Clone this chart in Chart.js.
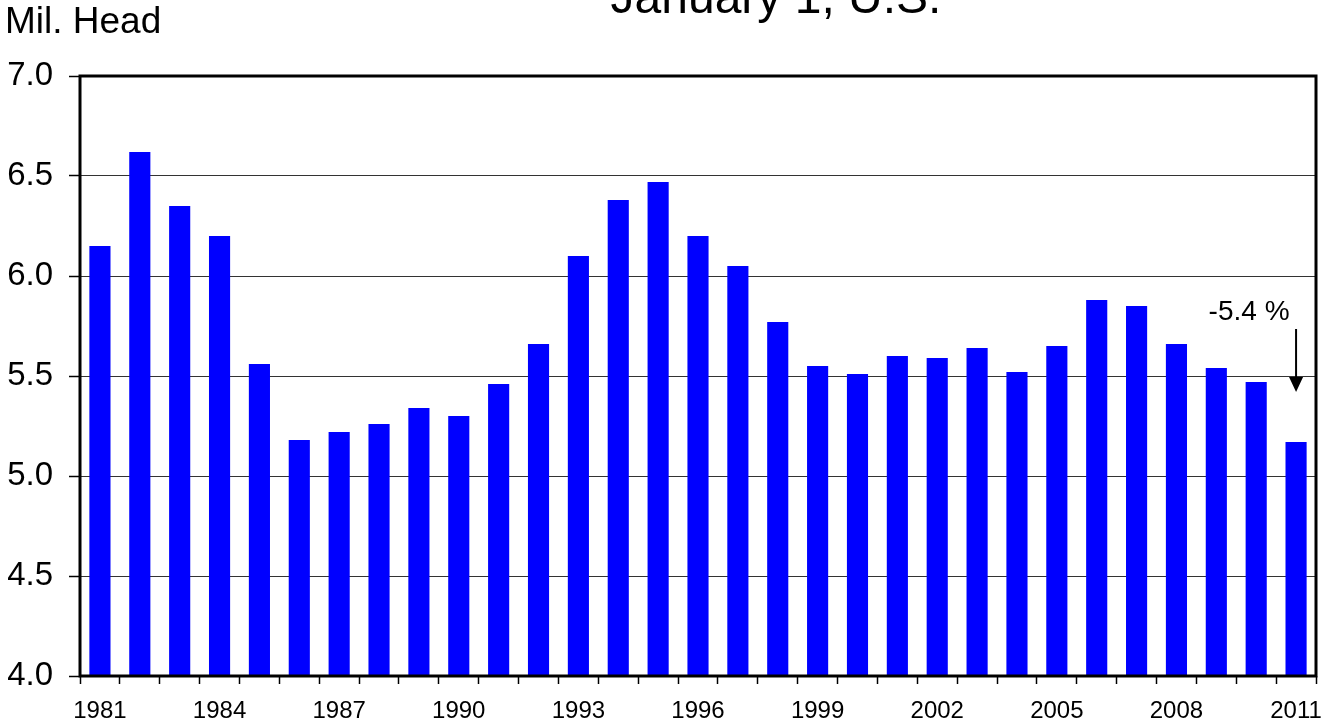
<!DOCTYPE html>
<html>
<head>
<meta charset="utf-8">
<script src="https://cdn.jsdelivr.net/npm/chart.js@4/dist/chart.umd.min.js"></script>
<style>
  html, body { margin: 0; padding: 0; background: #fff; }
  #wrap { width: 1322px; height: 724px; }
</style>
</head>
<body>
<div id="wrap"><canvas id="cowChart" width="1322" height="724"></canvas></div>
<script>
const years = ['1981', '1982', '1983', '1984', '1985', '1986', '1987', '1988', '1989', '1990',
    '1991', '1992', '1993', '1994', '1995', '1996', '1997', '1998', '1999', '2000',
    '2001', '2002', '2003', '2004', '2005', '2006', '2007', '2008', '2009', '2010', '2011'];
const headMillions = [6.15, 6.62, 6.35, 6.20, 5.56, 5.18, 5.22, 5.26, 5.34, 5.30,
    5.46, 5.66, 6.10, 6.38, 6.47, 6.20, 6.05, 5.77, 5.55, 5.51,
    5.60, 5.59, 5.64, 5.52, 5.65, 5.88, 5.85, 5.66, 5.54, 5.47, 5.17];
const labelEvery = 3;
const titleText = 'January 1, U.S.';
const unitText = 'Mil. Head';
const changeText = '-5.4 %';

const FONT = "'Liberation Sans', Arial, Helvetica, sans-serif";

// title, unit label, frame and the -5.4 % arrow
const decorations = {
    id: 'decorations',
    afterDraw(chart) {
        const ctx = chart.ctx;
        const area = chart.chartArea;
        const x = chart.scales.x;
        const y = chart.scales.y;

        ctx.save();
        ctx.fillStyle = '#000';
        ctx.textBaseline = 'alphabetic';

        ctx.font = '48px ' + FONT;
        ctx.textAlign = 'center';
        ctx.fillText(titleText, 776, 13);

        ctx.font = '37px ' + FONT;
        ctx.textAlign = 'left';
        ctx.fillText(unitText, 5, 33);

        // frame around the plot
        ctx.strokeStyle = '#000';
        ctx.lineWidth = 3;
        ctx.strokeRect(area.left, area.top, area.right - area.left, area.bottom - area.top);

        // arrow above the last bar
        const last = headMillions.length - 1;
        const bx = x.getPixelForValue(last);
        const tip = y.getPixelForValue(headMillions[last]) - 50;
        ctx.lineWidth = 2;
        ctx.beginPath();
        ctx.moveTo(bx, tip - 63);
        ctx.lineTo(bx, tip - 12);
        ctx.stroke();
        ctx.beginPath();
        ctx.moveTo(bx - 7, tip - 15);
        ctx.lineTo(bx + 7, tip - 15);
        ctx.lineTo(bx, tip);
        ctx.closePath();
        ctx.fill();

        ctx.font = '28px ' + FONT;
        ctx.textAlign = 'center';
        ctx.fillText(changeText, bx - 47, tip - 72);
        ctx.restore();
    }
};

new Chart(document.getElementById('cowChart'), {
    type: 'bar',
    data: {
        labels: years,
        datasets: [{
            data: headMillions,
            backgroundColor: '#0000FF',
            borderWidth: 0,
            categoryPercentage: 1.0,
            barPercentage: 0.53
        }]
    },
    options: {
        responsive: false,
        animation: false,
        layout: { padding: { top: 76, right: 6, left: 0, bottom: 0 } },
        plugins: {
            legend: { display: false },
            tooltip: { enabled: false },
            title: { display: false }
        },
        scales: {
            x: {
                offset: true,
                border: { display: false },
                grid: {
                    offset: true,
                    drawOnChartArea: false,
                    drawTicks: true,
                    tickLength: 8,
                    tickColor: '#000',
                    tickWidth: 1.5
                },
                ticks: {
                    autoSkip: false,
                    maxRotation: 0,
                    padding: 13,
                    color: '#000',
                    font: { family: FONT, size: 24 },
                    callback: (v, i) => (i % labelEvery === 0 ? years[i] : '')
                },
                afterFit: scale => {
                    scale.height = 48;
                    scale.paddingLeft = 0;
                    scale.paddingRight = 0;
                }
            },
            y: {
                min: 4.0,
                max: 7.0,
                border: { display: false },
                grid: {
                    color: '#333',
                    lineWidth: 1,
                    drawTicks: true,
                    tickLength: 11,
                    tickColor: '#000',
                    tickWidth: 1.5
                },
                ticks: {
                    stepSize: 0.5,
                    padding: 16,
                    color: '#000',
                    font: { family: FONT, size: 33 },
                    callback: v => v.toFixed(1)
                },
                afterFit: scale => {
                    scale.width = 80;
                    scale.paddingTop = 0;
                    scale.paddingBottom = 0;
                }
            }
        }
    },
    plugins: [decorations]
});
</script>
</body>
</html>
